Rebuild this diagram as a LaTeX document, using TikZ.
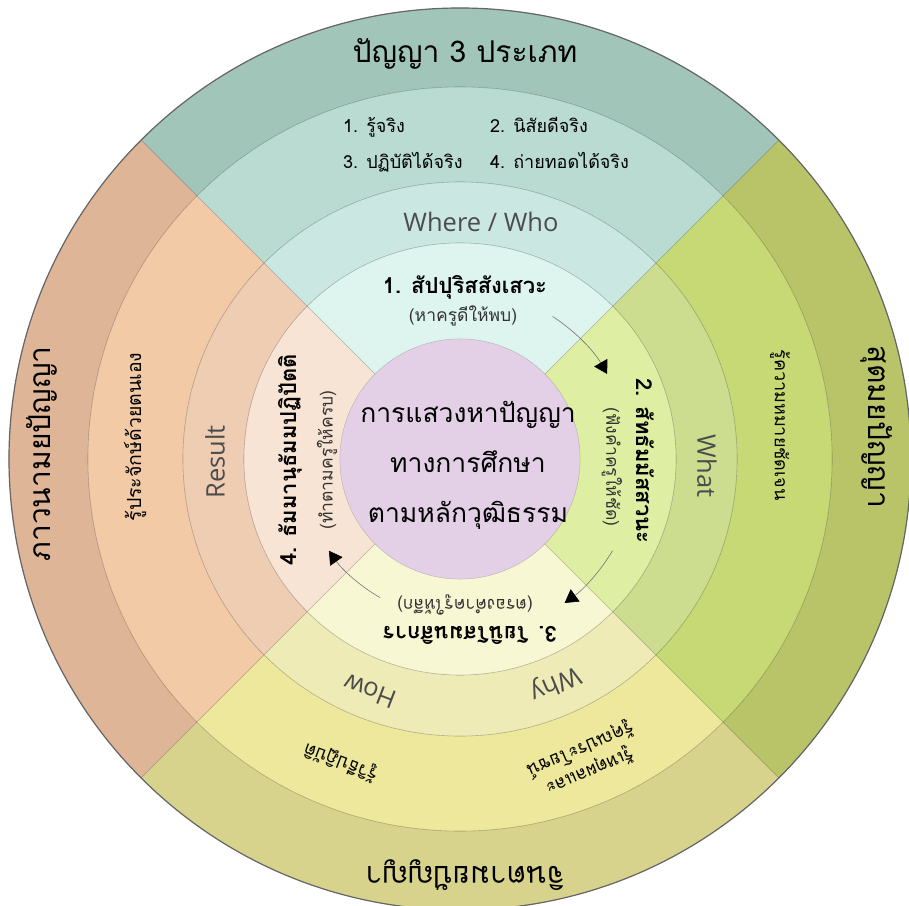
\documentclass[tikz,border=0pt]{standalone}
\usepackage{fontspec}
\setmainfont{Open Sans}
\newfontfamily\thaifont[Script=Thai]{Loma}
\usetikzlibrary{arrows.meta}

\definecolor{TopOuter}{HTML}{A2C5B9}
\definecolor{TopMid}{HTML}{B9DBD2}
\definecolor{TopAsk}{HTML}{CAE8E1}
\definecolor{TopStep}{HTML}{DDF4EF}
\definecolor{RightOuter}{HTML}{B9C468}
\definecolor{RightMid}{HTML}{C6D974}
\definecolor{RightAsk}{HTML}{CDDD8F}
\definecolor{RightStep}{HTML}{DEEFA3}
\definecolor{BottomOuter}{HTML}{D8D38C}
\definecolor{BottomMid}{HTML}{EDE89B}
\definecolor{BottomAsk}{HTML}{EFEBB6}
\definecolor{BottomStep}{HTML}{F8F7D3}
\definecolor{LeftOuter}{HTML}{DFB598}
\definecolor{LeftMid}{HTML}{F2CAA6}
\definecolor{LeftAsk}{HTML}{EECDB3}
\definecolor{LeftStep}{HTML}{F7E4D5}
\definecolor{HubFill}{HTML}{E3CFE6}

\begin{document}
\begin{tikzpicture}[
    x=1pt, y=1pt,
    SectorEdge/.style={draw=black, draw opacity=0.18, line width=0.6pt},
    OuterLabel/.style={font=\thaifont\fontsize{30}{36}\selectfont},
    MidLabel/.style={font=\thaifont\fontsize{18}{24}\selectfont, align=center},
    AskLabel/.style={font=\fontsize{25.5}{30}\selectfont, text=black!70},
    StepTitle/.style={font=\thaifont\bfseries\fontsize{22}{26}\selectfont},
    StepNote/.style={font=\thaifont\fontsize{17.5}{21}\selectfont, text=black!80},
    TurnArrow/.style={draw=black!55, line width=0.6pt, -{Triangle[length=13pt, width=15pt, color=black]}},
  ]
  \useasboundingbox (-460,-446) rectangle (449,459);
  \clip (-460,-446) rectangle (449,459);

  % rings, one quadrant at a time
  \foreach \side/\from in {Top/45, Left/135, Bottom/225, Right/-45} {
    \foreach \ring/\rin/\rout [evaluate=\from as \upto using \from+90] in {Outer/372/451, Mid/277/372, Ask/216/277, Step/120/216} {
      \edef\tint{\side\ring}
      \filldraw[fill=\tint, SectorEdge]
        (\from:\rout) arc[start angle=\from, end angle=\upto, radius=\rout]
        -- (\upto:\rin) arc[start angle=\upto, end angle=\from, radius=\rin] -- cycle;
    }
  }
  \draw[black!60, line width=1.2pt] (0,0) circle[radius=451];

  % hub
  \node[circle, fill=HubFill, draw=black, draw opacity=0.12, minimum size=240pt, inner sep=0pt] (hub) at (0,0) {};
  \node[font=\thaifont\fontsize{26.5}{50}\selectfont, align=center] (hubtext) at (8,-6)
    {การแสวงหาปัญญา\\ทางการศึกษา\\ตามหลักวุฒิธรรม};

  % outer ring
  \node[OuterLabel] (wisdom) at (5,405) {ปัญญา 3 ประเภท};
  \node[OuterLabel, rotate=-90] (suta) at (417,32) {สุตมยปัญญา};
  \node[OuterLabel, rotate=180] (cinta) at (5,-416) {จินตามยปัญญา};
  \node[OuterLabel, rotate=90] (bhavana) at (-418,5) {ภาวนามยปัญญา};

  % middle ring
  \node[MidLabel, anchor=base west, inner sep=0pt] (real1) at (-117,326) {1. รู้จริง};
  \node[MidLabel, anchor=base west, inner sep=0pt] (real2) at (30,326) {2. นิสัยดีจริง};
  \node[MidLabel, anchor=base west, inner sep=0pt] (real3) at (-117,290) {3. ปฏิบัติได้จริง};
  \node[MidLabel, anchor=base west, inner sep=0pt] (real4) at (30,290) {4. ถ่ายทอดได้จริง};
  \node[MidLabel, rotate=-90] (meaning) at (320,34) {รู้ความหมายชัดเจน};
  \node[MidLabel, rotate=90, font=\thaifont\fontsize{19.5}{24}\selectfont] (insight) at (-325,22) {รู้ประจักษ์ด้วยตนเอง};
  \node[MidLabel, rotate=159] (method) at (-119,-303) {รู้วิธีปฏิบัติ};
  \node[MidLabel, rotate=203] (reason) at (125,-301) {รู้เหตุผลและ\\รู้คุณประโยชน์};

  % question ring
  \node[AskLabel] (wherewho) at (21,237) {Where / Who};
  \node[AskLabel, rotate=-90] (what) at (247,-7) {What};
  \node[AskLabel, rotate=90] (result) at (-245,-3) {Result};
  \node[AskLabel, rotate=159] (how) at (-90,-232) {How};
  \node[AskLabel, rotate=-157] (why) at (95,-224) {Why};

  % four steps
  \node[StepTitle] (step1) at (5,172) {1. สัปปุริสสังเสวะ};
  \node[StepNote] (note1) at (3,143) {(หาครูดีให้พบ)};
  \node[StepTitle, rotate=-90] (step2) at (185,-2) {2. สัทธัมมัสสวนะ};
  \node[StepNote, rotate=-90] (note2) at (152,-8) {(ฟังคำครูให้ชัด)};
  \node[StepTitle, rotate=180] (step3) at (10,-176) {3. โยนิโสมนสิการ};
  \node[StepNote, rotate=180] (note3) at (5,-146) {(ตรองคำครูให้ลึก)};
  \node[StepTitle, rotate=90] (step4) at (-170,-1) {4. ธัมมานุธัมมปฏิปัตติ};
  \node[StepNote, rotate=90] (note4) at (-133,-1) {(ทำตามครูให้ครบ)};

  % turning arrows
  \coordinate (turn1) at (57:170);
  \coordinate (turn2) at (-31:178);
  \coordinate (turn3) at (-120:160);
  \draw[TurnArrow] (turn1) arc[start angle=57, end angle=30, radius=170];
  \draw[TurnArrow] (turn2) arc[start angle=-31, end angle=-54, radius=178];
  \draw[TurnArrow] (turn3) arc[start angle=-120, end angle=-145, radius=160];
\end{tikzpicture}
\end{document}
